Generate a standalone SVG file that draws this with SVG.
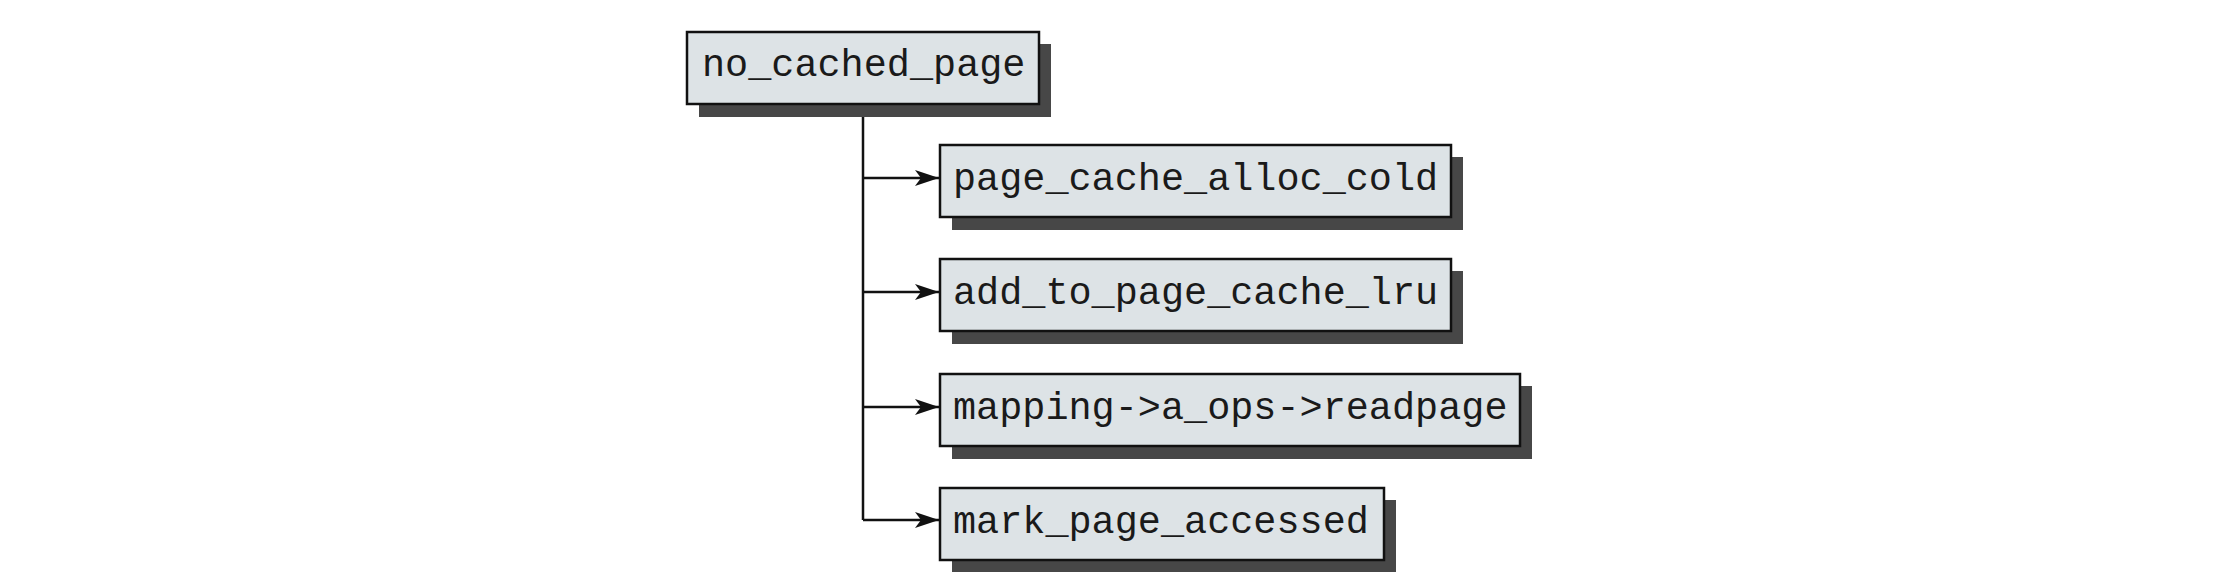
<svg xmlns="http://www.w3.org/2000/svg" width="2229" height="585" viewBox="0 0 2229 585">
<style>
.box{fill:#dde3e6;stroke:#111;stroke-width:2.5}
.shadow{fill:#474747}
.lbl{font-family:"Liberation Mono","DejaVu Sans Mono",monospace;font-size:38.5px;fill:#1a1a1a}
.conn{fill:none;stroke:#111;stroke-width:2.5}
</style>
<defs>
<marker id="arr" markerWidth="24" markerHeight="16" refX="24" refY="8" orient="auto" markerUnits="userSpaceOnUse">
<path d="M0,0 L24,8 L0,16 L6,8 Z" fill="#111"/>
</marker>
</defs>
<rect width="2229" height="585" fill="#fff"/>
<g id="connectors">
<path class="conn" d="M863,104 V520"/>
<path class="conn" d="M863,178 H939" marker-end="url(#arr)"/>
<path class="conn" d="M863,292 H939" marker-end="url(#arr)"/>
<path class="conn" d="M863,407 H939" marker-end="url(#arr)"/>
<path class="conn" d="M863,520 H939" marker-end="url(#arr)"/>
</g>
<g id="no_cached_page">
<rect class="shadow" x="699" y="44" width="352" height="73"/>
<rect class="box" x="687" y="32" width="352" height="72"/>
<text class="lbl" x="702" y="76">no_cached_page</text>
</g>
<g id="page_cache_alloc_cold">
<rect class="shadow" x="952" y="157" width="511" height="73"/>
<rect class="box" x="940" y="145" width="511" height="72"/>
<text class="lbl" x="953" y="190">page_cache_alloc_cold</text>
</g>
<g id="add_to_page_cache_lru">
<rect class="shadow" x="952" y="271" width="511" height="73"/>
<rect class="box" x="940" y="259" width="511" height="72"/>
<text class="lbl" x="953" y="304">add_to_page_cache_lru</text>
</g>
<g id="mapping_readpage">
<rect class="shadow" x="952" y="386" width="580" height="73"/>
<rect class="box" x="940" y="374" width="580" height="72"/>
<text class="lbl" x="953" y="419">mapping-&gt;a_ops-&gt;readpage</text>
</g>
<g id="mark_page_accessed">
<rect class="shadow" x="952" y="500" width="444" height="72"/>
<rect class="box" x="940" y="488" width="444" height="72"/>
<text class="lbl" x="953" y="533">mark_page_accessed</text>
</g>
</svg>
